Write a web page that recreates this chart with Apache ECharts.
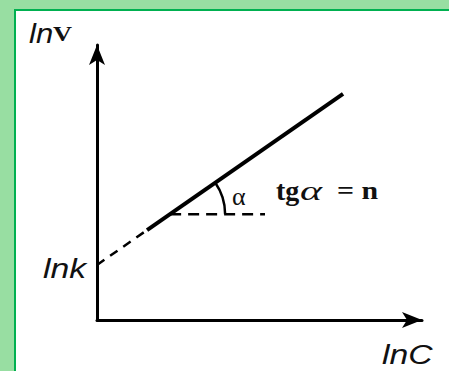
<!DOCTYPE html>
<html>
<head>
<meta charset="utf-8">
<script src="https://cdn.jsdelivr.net/npm/echarts@6/dist/echarts.min.js"></script>
<style>
  html, body { margin: 0; padding: 0; }
  body { width: 449px; height: 371px; background: #98dea2; position: relative; overflow: hidden; }
  .frame {
    position: absolute; left: 14px; top: 9px; width: 460px; height: 400px;
    background: #fff; border-top: 2px solid #00b050; border-left: 2px solid #00b050;
  }
  #chart { position: absolute; left: 0; top: 0; width: 449px; height: 371px; }
</style>
</head>
<body>
<div class="frame"></div>
<div id="chart"></div>
<script>
// lnV = lnk + n * lnC (arbitrary units 0..10)
const lnkDashed = [[0, 2.0], [1.54, 3.27]];     // extrapolated part down to lnk
const solidLine = [[1.54, 3.27], [7.57, 8.22]]; // measured part
const horizDashed = [[2.25, 3.85], [5.17, 3.85]]; // horizontal reference for angle
const angleVertex = [[2.25, 3.85]];

const chart = echarts.init(document.getElementById('chart'), null, { renderer: 'svg' });

const axisCommon = {
  type: 'value',
  min: 0,
  max: 10,
  axisLine: {
    show: true,
    onZero: false,
    symbol: ['none', 'arrow'],
    symbolSize: [12, 20],
    lineStyle: { color: '#000', width: 3 }
  },
  axisTick: { show: false },
  axisLabel: { show: false },
  splitLine: { show: false }
};

const sans = 'Liberation Sans, Arial, sans-serif';
const serif = 'Liberation Serif, Times New Roman, serif';

function label(text, x, y, font, size, opts) {
  return Object.assign({
    type: 'text',
    x: x,
    y: y,
    silent: true,
    style: Object.assign({
      text: text,
      fontFamily: font,
      fontSize: size,
      fill: '#111',
      verticalAlign: 'middle',
      align: 'left'
    }, opts && opts.style)
  }, opts && opts.el);
}

let option = {
  animation: false,
  backgroundColor: 'transparent',
  grid: { left: 97, right: 27, top: 45, bottom: 51 },
  xAxis: axisCommon,
  yAxis: axisCommon,
  series: [
    {
      type: 'line',
      data: lnkDashed,
      symbol: 'none',
      lineStyle: { color: '#000', width: 2.5, type: [9, 7] }
    },
    {
      type: 'line',
      data: solidLine,
      symbol: 'none',
      lineStyle: { color: '#000', width: 4 }
    },
    {
      type: 'line',
      data: horizDashed,
      symbol: 'none',
      lineStyle: { color: '#000', width: 2.5, type: [11, 7] }
    },
    {
      type: 'custom',
      data: angleVertex,
      encode: { x: 0, y: 1 },
      renderItem: function (params, api) {
        const c = api.coord([api.value(0), api.value(1)]);
        const p0 = api.coord(solidLine[0]);
        const p1 = api.coord(solidLine[1]);
        const ang = Math.atan2(p1[1] - p0[1], p1[0] - p0[0]);
        return {
          type: 'arc',
          shape: { cx: c[0], cy: c[1], r: 55, startAngle: ang, endAngle: 0, clockwise: true },
          style: { stroke: '#000', lineWidth: 2.5, fill: null }
        };
      }
    }
  ],
  graphic: [
    label('ln', 29, 34, sans, 27, { style: { fontStyle: 'italic' }, el: { scaleX: 1.15 } }),
    label('V', 53, 33, serif, 22, { style: { fontWeight: 'bold' }, el: { scaleX: 1.2 } }),
    label('lnk', 43, 268, sans, 27, { style: { fontStyle: 'italic' }, el: { scaleX: 1.25 } }),
    label('lnC', 382, 354, sans, 27, { style: { fontStyle: 'italic' }, el: { scaleX: 1.25 } }),
    label('α', 232, 196, serif, 26),
    label('tg', 276, 190, serif, 28, { style: { fontWeight: 'bold' } }),
    label('α', 300, 191, serif, 28, { style: { fontStyle: 'italic' }, el: { scaleX: 1.5 } }),
    label('= n', 337, 190, serif, 26, { style: { fontWeight: 'bold' }, el: { scaleX: 1.15 } })
  ]
};

chart.setOption(option);
</script>
</body>
</html>
